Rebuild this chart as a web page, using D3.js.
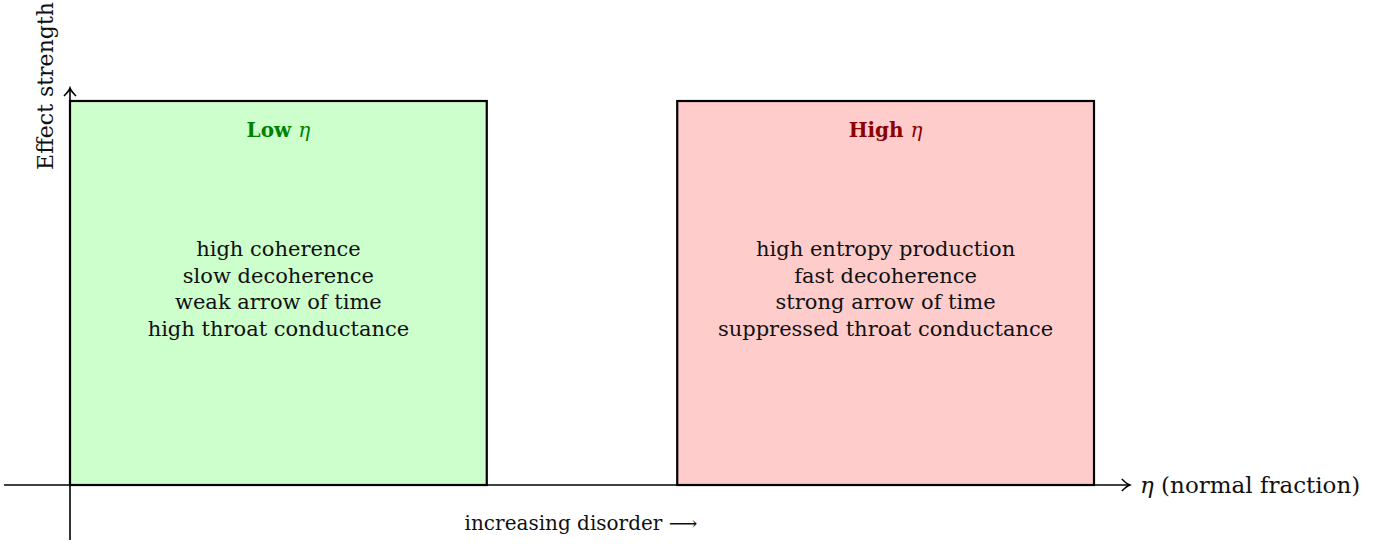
<!DOCTYPE html>
<html lang="en">
<head>
<meta charset="UTF-8">
<title>Low vs High eta</title>
<script src="https://d3js.org/d3.v7.min.js"></script>
<style>
  body { margin: 0; background: #fff; }
  svg text { font-family: "DejaVu Serif", serif; fill: #111; }
</style>
</head>
<body>
<div id="chart"></div>
<script>
// regimes along the eta axis (data units)
const regimes = ["Low", "High"];
const regimeStart = [0, 5.93];
const regimeEnd = [4.07, 10];
const regimeHeight = [1, 1];
const regimeFill = ["#ccffcc", "#ffcccc"];
const regimeTitleColor = ["#008000", "#8b0000"];
const regimeLines = [
  ["high coherence", "slow decoherence", "weak arrow of time", "high throat conductance"],
  ["high entropy production", "fast decoherence", "strong arrow of time", "suppressed throat conductance"]
];
const xAxisExtent = [-0.645, 10.35];
const yAxisExtent = [-0.143, 1.034];

const W = 1396, H = 546;
const x = d3.scaleLinear().domain([0, 10]).range([70, 1094]);
const y = d3.scaleLinear().domain([0, 1]).range([485, 101]);

const svg = d3.select("#chart").append("svg")
  .attr("width", W).attr("height", H);

svg.append("defs").append("marker")
  .attr("id", "arr")
  .attr("viewBox", "-10 -7 12 14")
  .attr("refX", 0).attr("refY", 0)
  .attr("markerWidth", 12).attr("markerHeight", 14)
  .attr("markerUnits", "userSpaceOnUse")
  .attr("orient", "auto")
  .append("path")
  .attr("d", "M-8,-6 Q-3,-1 0,0 Q-3,1 -8,6")
  .attr("fill", "none").attr("stroke", "#000").attr("stroke-width", 1.6);

// boxes
const g = svg.append("g");
g.selectAll("rect").data(regimes).join("rect")
  .attr("x", (d, i) => x(regimeStart[i]))
  .attr("y", (d, i) => y(regimeHeight[i]))
  .attr("width", (d, i) => x(regimeEnd[i]) - x(regimeStart[i]))
  .attr("height", (d, i) => y(0) - y(regimeHeight[i]))
  .attr("fill", (d, i) => regimeFill[i])
  .attr("stroke", "#000").attr("stroke-width", 2.2);

// axes
svg.append("line")
  .attr("x1", x(xAxisExtent[0])).attr("x2", x(xAxisExtent[1]))
  .attr("y1", y(0)).attr("y2", y(0))
  .attr("stroke", "#000").attr("stroke-width", 1.6)
  .attr("marker-end", "url(#arr)");
svg.append("line")
  .attr("x1", x(0)).attr("x2", x(0))
  .attr("y1", y(yAxisExtent[0])).attr("y2", y(yAxisExtent[1]))
  .attr("stroke", "#000").attr("stroke-width", 1.6)
  .attr("marker-end", "url(#arr)");

// titles and descriptions
regimes.forEach((name, i) => {
  const cx = (x(regimeStart[i]) + x(regimeEnd[i])) / 2;
  const t = svg.append("text")
    .attr("x", cx).attr("y", 137)
    .attr("text-anchor", "middle")
    .style("font-size", "20px").style("font-weight", "bold")
    .style("fill", regimeTitleColor[i]);
  t.append("tspan").text(name + " ");
  t.append("tspan").style("font-style", "italic").style("font-weight", "normal").text("η");

  svg.append("g").selectAll("text").data(regimeLines[i]).join("text")
    .attr("x", cx)
    .attr("y", (d, j) => 256 + j * 26.7)
    .attr("text-anchor", "middle")
    .style("font-size", "21px")
    .text(d => d);
});

// axis labels
const xl = svg.append("text")
  .attr("x", 1140).attr("y", 493)
  .style("font-size", "23px");
xl.append("tspan").style("font-style", "italic").text("η");
xl.append("tspan").text(" (normal fraction)");

svg.append("text")
  .attr("transform", "translate(53,86) rotate(-90)")
  .attr("text-anchor", "middle")
  .style("font-size", "22px")
  .text("Effect strength");

svg.append("text")
  .attr("x", 581).attr("y", 530)
  .attr("text-anchor", "middle")
  .style("font-size", "20px")
  .text("increasing disorder ⟶");
</script>
</body>
</html>
